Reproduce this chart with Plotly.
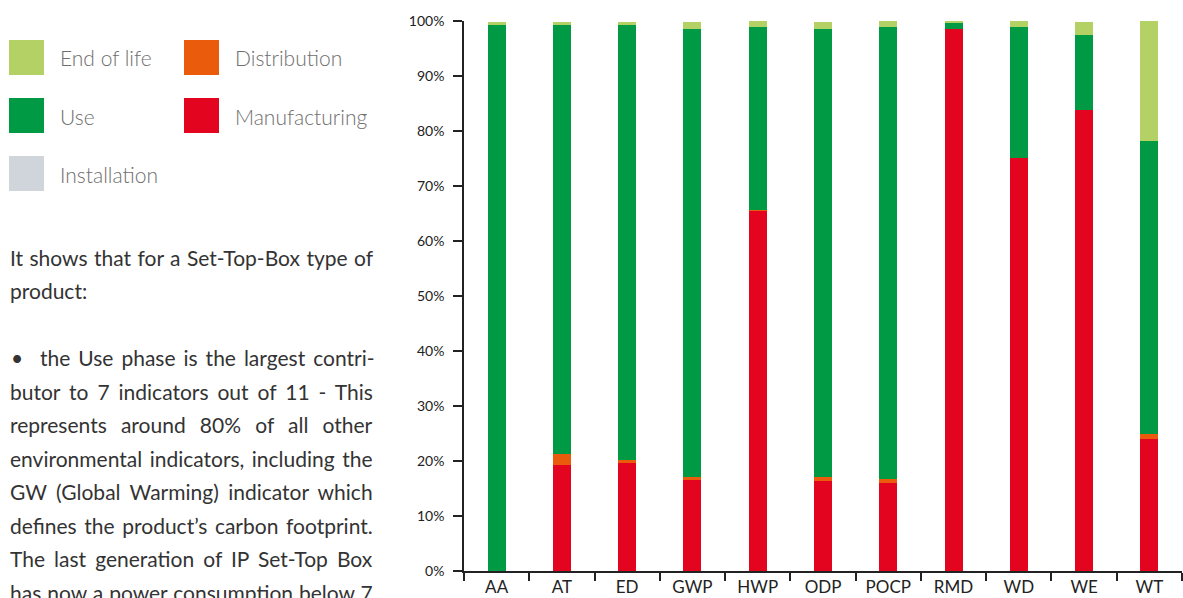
import plotly.graph_objects as go

categories = ["AA", "AT", "ED", "GWP", "HWP", "ODP", "POCP", "RMD", "WD", "WE", "WT"]
manufacturing = [0, 19.3, 19.7, 16.5, 65.5, 16.4, 16.0, 98.5, 75.1, 83.8, 24.0]
distribution = [0, 2.0, 0.5, 0.6, 0.1, 0.7, 0.7, 0, 0, 0, 0.9]
installation = [0, 0, 0, 0, 0, 0, 0, 0, 0, 0, 0]
use = [99.3, 78.0, 79.1, 81.4, 33.3, 81.4, 82.2, 1.1, 23.8, 13.7, 53.3]
end_of_life = [0.5, 0.5, 0.5, 1.3, 1.1, 1.3, 1.1, 0.4, 1.1, 2.3, 21.8]

y_ticks = [0, 10, 20, 30, 40, 50, 60, 70, 80, 90, 100]
y_tick_labels = ["0%", "10%", "20%", "30%", "40%", "50%", "60%", "70%", "80%", "90%", "100%"]

series = [
    ("Manufacturing", manufacturing, "#E30520"),
    ("Distribution", distribution, "#EA5B0C"),
    ("Installation", installation, "#D0D5DC"),
    ("Use", use, "#009A44"),
    ("End of life", end_of_life, "#B3D165"),
]

legend_items = [
    ("End of life", "#B3D165", 0, 0),
    ("Distribution", "#EA5B0C", 1, 0),
    ("Use", "#009A44", 0, 1),
    ("Manufacturing", "#E30520", 1, 1),
    ("Installation", "#D0D5DC", 0, 2),
]

# (text, left x, word spacing px)
body_lines = [
    ("It shows that for a Set-Top-Box type of", 8, 1.05),
    ("product:", 8, 0),
    ("", 8, 0),
    ("the Use phase is the largest contri-", 38, 2.6),
    ("butor to 7 indicators out of 11 - This", 8, 3.6),
    ("represents around 80% of all other", 8, 8.8),
    ("environmental indicators, including the", 8, 2.1),
    ("GW (Global Warming) indicator which", 8, 4.0),
    ("defines the product’s carbon footprint.", 8, 2.25),
    ("The last generation of IP Set-Top Box", 8, 3.7),
    ("has now a power consumption below 7", 8, 0.6),
]

W, H = 1183, 598
FONT = "Lato"
PL, PR, PT, PB = 464, 1, 21, 27
PW, PH = W - PL - PR, H - PT - PB


def px(x):
    return (x - PL) / PW


def py(y):
    return (H - PB - y) / PH


fig = go.Figure()
for name, vals, col in series:
    fig.add_trace(go.Bar(x=categories, y=vals, name=name, marker=dict(color=col, line=dict(width=0)),
                         showlegend=False))

shapes = []
annotations = []
for label, col, cx, ry in legend_items:
    x0 = 9 + cx * 175
    y0 = 40 + ry * 58
    shapes.append(dict(type="rect", xref="paper", yref="paper",
                       x0=px(x0), x1=px(x0 + 35), y0=py(y0 + 35), y1=py(y0),
                       fillcolor=col, line=dict(width=0), layer="above"))
    annotations.append(dict(xref="paper", yref="paper", x=px(x0 + 49), y=py(y0 + 18),
                            text=label, showarrow=False, xanchor="left", yanchor="middle",
                            font=dict(family=FONT, size=21, color="#6e6e6e", weight=300)))

for i, (line, lx, ws) in enumerate(body_lines):
    if not line:
        continue
    yc = 257 + i * 33.5
    annotations.append(dict(xref="paper", yref="paper", x=px(lx), y=py(yc),
                            text=f'<span style="word-spacing:{ws}px">{line}</span>',
                            showarrow=False, xanchor="left", yanchor="middle",
                            font=dict(family=FONT, size=21, color="#333333")))
# bullet
annotations.append(dict(xref="paper", yref="paper", x=px(9), y=py(257 + 3 * 33.5),
                        text="•", showarrow=False, xanchor="left", yanchor="middle",
                        font=dict(family=FONT, size=21, color="#333333")))

fig.update_layout(
    barmode="stack",
    bargap=0.725,
    width=W, height=H,
    margin=dict(l=PL, r=PR, t=PT, b=PB),
    paper_bgcolor="white", plot_bgcolor="white",
    shapes=shapes, annotations=annotations,
    font=dict(family=FONT),
)
fig.update_xaxes(showline=True, linecolor="#222", linewidth=1.5, ticks="outside", tickson="boundaries",
                 ticklen=8, tickcolor="#222", tickwidth=1.5, showgrid=False,
                 tickfont=dict(family=FONT, size=17, color="#222"))
fig.update_yaxes(range=[0, 100], tickmode="array", tickvals=y_ticks, ticktext=y_tick_labels,
                 showline=True, linecolor="#222",
                 linewidth=1.5, ticks="outside", ticklen=9, tickcolor="#222", tickwidth=1.5,
                 showgrid=False, zeroline=False, ticklabelstandoff=6,
                 tickfont=dict(family=FONT, size=14, color="#222"))

fig.write_html("out.html")
